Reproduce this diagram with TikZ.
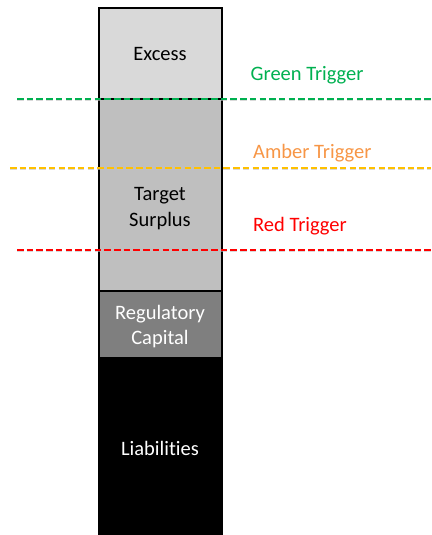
\documentclass[tikz,border=0pt]{standalone}
\usepackage{fontspec}
\setmainfont{Carlito}[Ligatures={NoCommon}]
\definecolor{excessgrey}{HTML}{D9D9D9}
\definecolor{targetgrey}{HTML}{BFBFBF}
\definecolor{reggrey}{HTML}{7F7F7F}
\definecolor{trgreen}{HTML}{00B050}
\definecolor{tramber}{HTML}{FFC000}
\definecolor{tramberText}{HTML}{F79646}
\definecolor{trred}{HTML}{FF0000}
\begin{document}
\begin{tikzpicture}[x=1pt,y=-1pt,
  box/.style={draw=black, line width=2pt, minimum width=123pt, inner sep=0pt, anchor=north},
  lbl/.style={font=\fontsize{20.5}{26}\selectfont, anchor=base, inner sep=0pt},
  trig/.style={font=\fontsize{20.5}{26}\selectfont, anchor=base west, inner sep=0pt},
  trline/.style={line width=2pt, dash pattern=on 6.5pt off 3.2pt},
  shadowline/.style={line width=2pt, black!25, opacity=0.6, dash pattern=on 6.5pt off 3.2pt}]
\useasboundingbox (0,0) rectangle (431,535);
% boxes
\node[box, fill=black, minimum height=182pt] (liab) at (160,357) {};
\node[box, fill=reggrey, minimum height=67pt] (reg) at (160,290) {};
\node[box, fill=targetgrey, minimum height=192pt] (target) at (160,98) {};
\node[box, fill=excessgrey, minimum height=91pt] (excess) at (160,7) {};
% box texts
\node[lbl] (excesstext) at (160,60) {Excess};
\node[lbl] (targettext1) at (160,200.7) {Target};
\node[lbl] (targettext2) at (160,226.7) {Surplus};
\node[lbl, text=white] (regtext1) at (160,319) {Regulatory};
\node[lbl, text=white] (regtext2) at (160,344) {Capital};
\node[lbl, text=white] (liabtext) at (160,455) {Liabilities};
% trigger lines
\coordinate (gL) at (17,98.5);
\coordinate (gR) at (431,98.5);
\coordinate (aL) at (10,167.7);
\coordinate (aR) at (431,167.7);
\coordinate (rL) at (17,249.5);
\coordinate (rR) at (431,249.5);
\draw[shadowline] ([yshift=-1.5pt]gL) -- ([yshift=-1.5pt]gR);
\draw[shadowline] ([yshift=-1.5pt]aL) -- ([yshift=-1.5pt]aR);
\draw[shadowline] ([yshift=-1.5pt]rL) -- ([yshift=-1.5pt]rR);
\draw[trline, trgreen] (gL) -- (gR);
\draw[trline, tramber] (aL) -- (aR);
\draw[trline, trred] (rL) -- (rR);
% trigger labels
\node[trig, text=trgreen] (gtext) at (250.5,81) {Green Trigger};
\node[trig, text=tramberText] (atext) at (253,158.3) {Amber Trigger};
\node[trig, text=trred] (rtext) at (253,231) {Red Trigger};
\end{tikzpicture}
\end{document}
